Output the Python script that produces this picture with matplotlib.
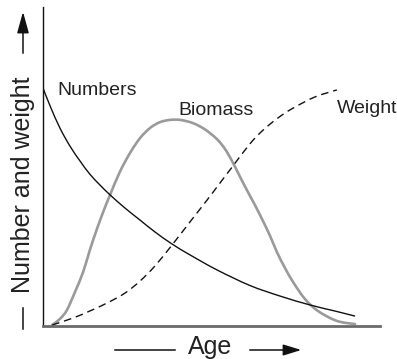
import matplotlib
matplotlib.use("Agg")
import matplotlib.pyplot as plt
from matplotlib.path import Path
from matplotlib.patches import PathPatch, FancyArrowPatch

# Age runs 0..10, "number and weight" runs 0..10 (arbitrary units)
numbers_age = [0.00, 0.21, 0.50, 0.80, 1.10, 1.39, 1.69, 1.99, 2.43, 2.88,
               3.32, 3.83, 4.36, 5.16, 6.14, 7.03, 7.92, 8.66, 9.26]
numbers_val = [7.46, 6.90, 6.21, 5.64, 5.17, 4.76, 4.42, 4.11, 3.70, 3.32,
               2.95, 2.57, 2.23, 1.76, 1.27, 0.94, 0.66, 0.47, 0.31]

biomass_age = [0.27, 0.50, 0.71, 0.95, 1.19, 1.39, 1.60, 1.81, 1.99, 2.28, 2.58,
               2.88, 3.18, 3.47, 3.77, 4.07, 4.45, 4.81, 5.16, 5.40, 5.61, 5.85,
               6.05, 6.29, 6.50, 6.74, 6.94, 7.18, 7.42, 7.77, 8.16, 8.72, 9.26]
biomass_val = [0.03, 0.22, 0.50, 1.07, 1.69, 2.38, 3.04, 3.64, 4.11, 4.83, 5.42,
               5.89, 6.21, 6.39, 6.46, 6.46, 6.36, 6.16, 5.86, 5.55, 5.17, 4.67,
               4.26, 3.79, 3.35, 2.82, 2.32, 1.82, 1.38, 0.85, 0.47, 0.16, 0.06]

weight_age = [0.27, 0.89, 1.39, 1.90, 2.43, 2.88, 3.32, 3.83, 4.36, 4.87,
              5.25, 5.61, 6.14, 6.53, 6.97, 7.42, 8.07, 8.72]
weight_val = [0.03, 0.25, 0.47, 0.72, 1.03, 1.41, 1.88, 2.54, 3.26, 3.95,
              4.48, 4.98, 5.71, 6.14, 6.52, 6.83, 7.18, 7.40]

plt.rcParams["font.family"] = ["Liberation Sans", "DejaVu Sans"]

W, H = 397, 359
fig = plt.figure(figsize=(W / 100, H / 100), dpi=100)
ax = fig.add_axes([43 / W, 1 - 326 / H, 337 / W, 319 / H])
ax.set_xlim(0, 10)
ax.set_ylim(0, 10)


def smooth_path(xs, ys):
    # Catmull-Rom through the points, written as cubic Bezier segments
    pts = list(zip(xs, ys))
    verts = [pts[0]]
    codes = [Path.MOVETO]
    for i in range(len(pts) - 1):
        p0 = pts[i - 1] if i > 0 else pts[i]
        p1 = pts[i]
        p2 = pts[i + 1]
        p3 = pts[i + 2] if i + 2 < len(pts) else pts[i + 1]
        c1 = (p1[0] + (p2[0] - p0[0]) / 6, p1[1] + (p2[1] - p0[1]) / 6)
        c2 = (p2[0] - (p3[0] - p1[0]) / 6, p2[1] - (p3[1] - p1[1]) / 6)
        verts += [c1, c2, p2]
        codes += [Path.CURVE4] * 3
    return Path(verts, codes)


def curve(xs, ys, **kw):
    ax.add_patch(PathPatch(smooth_path(xs, ys), fill=False, **kw))


curve(biomass_age, biomass_val, edgecolor="#9a9a9a", lw=1.9, capstyle="round")
curve(numbers_age, numbers_val, edgecolor="#111111", lw=1.0)
curve(weight_age, weight_val, edgecolor="#111111", lw=1.0, linestyle=(0, (5.5, 3.5)))

label_kw = dict(fontsize=14, color="#222222", va="baseline", ha="left")
ax.text(0.42, 7.24, "Numbers", **label_kw)
ax.text(4.01, 6.61, "Biomass", **label_kw)
ax.text(8.72, 6.68, "Weight", clip_on=False, **label_kw)

ax.set_xticks([])
ax.set_yticks([])
for side in ("top", "right"):
    ax.spines[side].set_visible(False)
ax.spines["left"].set_color("#111111")
ax.spines["left"].set_linewidth(1.0)
ax.spines["bottom"].set_color("#6a6a6a")
ax.spines["bottom"].set_linewidth(2.0)


# axis titles with leading bar and trailing arrow
def fx(px):
    return px / W


def fy(py):
    return 1 - py / H


fig.text(fx(210), fy(347), "Age", fontsize=18, ha="center", va="center", color="#222222")
fig.add_artist(plt.Line2D([fx(115), fx(175)], [fy(350), fy(350)], color="#111111", lw=1.1))
fig.add_artist(FancyArrowPatch(
    (fx(247), fy(350)), (fx(304), fy(350)), transform=fig.transFigure,
    arrowstyle="-|>,head_length=0.55,head_width=0.17", mutation_scale=20,
    color="#111111", lw=1.1))

fig.text(fx(23), fy(185), "Number and weight", fontsize=18, rotation=90,
         ha="center", va="center", color="#222222")
fig.add_artist(plt.Line2D([fx(23), fx(23)], [fy(308), fy(329)], color="#111111", lw=1.1))
fig.add_artist(FancyArrowPatch(
    (fx(23), fy(56)), (fx(23), fy(9)), transform=fig.transFigure,
    arrowstyle="-|>,head_length=0.65,head_width=0.18", mutation_scale=20,
    color="#111111", lw=1.1))

fig.savefig("out.png", dpi=100)
